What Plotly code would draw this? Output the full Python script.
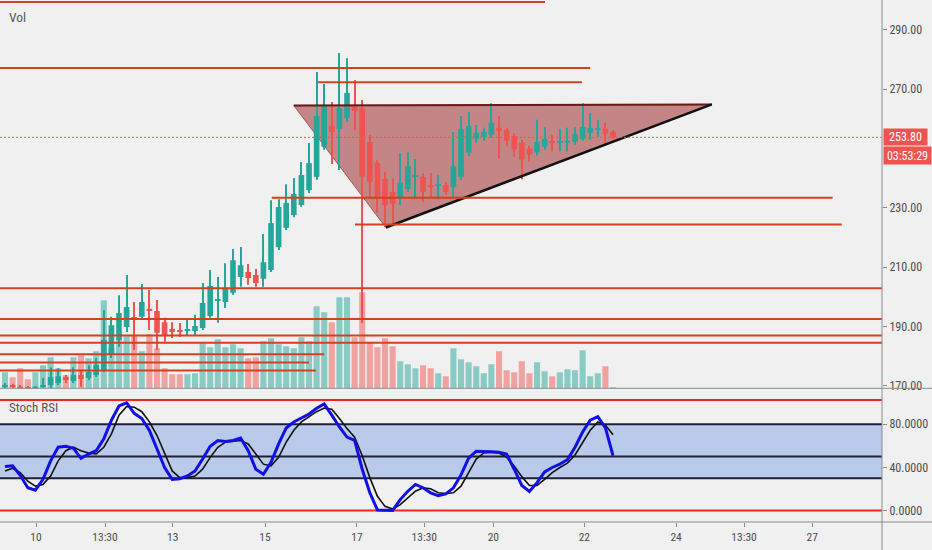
import plotly.graph_objects as go

# ---------------- data ----------------
open_ = [169.7,170.3,169.7,169.3,169.0,169.7,170.3,171.0,173.0,171.7,
         173.7,172.7,173.7,175.4,180.4,185.5,189.9,193.0,193.3,196.0,
         195.3,191.5,189.2,188.9,188.5,188.5,189.5,193.6,198.6,198.3,
         201.4,206.7,208.4,207.4,206.1,209.1,216.8,223.3,227.6,231.0,
         236.0,240.5,250.6,257.6,256.6,260.3,264.3,263.7,252.2,245.1,
         239.8,235.4,233.4,236.4,240.5,240.5,237.7,237.4,237.7,237.0,
         240.5,248.6,253.3,254.0,254.7,257.0,256.3,254.3,252.0,250.0,
         248.7,250.7,252.3,252.0,252.0,252.3,253.3,255.3,256.3,256.7,255.7]
high_ = [171.0,170.7,170.3,170.0,170.0,172.7,176.3,176.0,173.7,176.3,
         175.3,177.0,179.4,195.6,193.3,200.6,207.4,198.3,204.4,202.3,
         199.0,193.0,191.5,191.2,192.2,194.0,204.7,209.1,206.7,211.4,
         216.2,216.8,211.1,209.4,221.2,232.6,232.9,238.0,240.1,245.5,
         251.9,275.8,271.8,265.7,282.2,280.5,273.1,266.4,254.6,246.1,
         242.0,240.0,248.5,248.8,246.5,241.8,241.8,241.1,238.7,255.6,
         261.0,262.3,258.0,257.0,265.3,261.0,257.0,255.3,253.0,251.0,
         259.7,257.3,254.7,256.7,257.0,257.3,265.3,262.0,259.7,258.7,256.3]
low_ = [169.0,169.0,169.0,168.7,168.7,169.3,169.3,170.3,171.0,171.0,
        169.7,172.0,173.0,174.8,179.4,183.2,188.2,182.1,192.6,188.9,
        182.1,184.9,186.2,186.5,187.2,187.2,188.9,193.0,191.3,196.3,
        200.7,203.4,204.1,203.4,203.4,208.4,215.8,222.6,226.9,230.4,
        235.0,239.5,249.6,244.8,242.8,259.0,256.2,191.2,233.7,228.4,
        223.6,224.9,231.0,235.4,233.7,232.0,233.4,233.7,234.4,233.4,
        239.5,247.5,252.0,252.7,253.7,246.7,250.7,247.3,239.7,245.7,
        247.7,249.7,249.0,249.0,249.0,251.3,252.7,253.0,254.0,251.3,253.3]
close_ = [170.3,169.7,169.3,169.0,169.7,170.3,173.0,173.3,172.0,173.7,
          172.3,174.7,177.1,185.5,190.5,194.6,196.6,192.6,198.3,195.3,
          187.9,187.2,188.2,188.5,189.2,190.2,198.0,203.7,199.3,203.1,
          212.4,210.7,206.4,204.7,211.7,224.9,230.3,231.7,234.7,241.1,
          245.1,261.0,264.3,255.6,263.7,268.8,262.7,240.5,238.8,233.4,
          231.0,231.4,238.5,244.1,240.8,235.4,237.0,238.0,235.4,244.1,
          256.6,257.6,255.3,255.7,258.7,256.0,252.7,249.7,246.3,248.0,
          252.3,253.3,252.0,252.3,252.7,255.0,257.3,257.0,256.7,255.0,253.8]
volume_k = [16,11,20,9,16,23,31,20,13,31,
            33,30,37,88,40,50,52,53,37,54,
            40,20,14,14,14,15,45,41,49,41,
            44,40,30,31,47,50,44,42,40,51,
            47,82,76,66,91,91,51,96,46,41,
            50,42,27,24,20,23,20,15,12,40,
            29,26,22,15,24,37,18,16,27,15,
            26,17,12,16,19,18,38,12,15,22,1]
stoch_k = [40.8,41.5,32.7,21.1,18.8,28.9,46.1,58.7,59.6,57.8,
           48.4,52.4,55.5,66.5,83.8,97.0,100.0,90.2,85.4,74.4,
           57.1,39.9,28.9,29.5,32.0,36.7,47.7,59.6,65.0,64.0,
           65.0,67.2,55.5,38.3,33.6,44.6,61.8,76.6,82.2,86.0,
           89.5,94.9,98.8,88.5,77.5,68.1,65.0,38.3,16.4,0.5,
           0.5,0.0,10.1,17.9,24.2,21.1,16.4,13.8,15.4,21.0,
           33.0,48.5,55.0,55.0,54.6,54.0,52.4,38.3,23.2,17.6,
           25.8,35.8,39.9,43.0,47.1,58.7,72.8,83.8,87.0,76.6,50.8]
stoch_d = [36.7,39.2,35.2,27.3,22.6,24.2,32.0,46.1,55.5,58.7,
           55.5,53.4,52.4,58.7,71.2,88.5,96.5,95.9,91.7,82.3,
           69.6,52.4,36.7,30.5,30.5,32.0,38.3,49.3,58.7,63.4,
           64.0,65.0,61.8,52.4,43.0,41.4,49.3,63.4,74.4,82.2,
           87.0,91.7,95.0,94.0,85.4,76.0,68.1,50.8,30.5,13.2,
           3.8,1.3,5.4,11.7,17.9,21.1,20.1,16.4,15.7,16.4,
           22.6,35.2,47.7,53.4,54.0,53.4,49.3,41.4,31.4,23.2,
           23.2,28.9,35.2,39.9,44.0,51.5,63.4,74.4,82.2,79.1,70.3]

# time axis (bar index positions of the labels)
time_tick_pos = [4.08, 13.16, 22.07, 34.21, 46.3, 55.17, 64.25, 76.22, 88.3, 97.24, 106.2]
time_tick_text = ["10", "13:30", "13", "15", "17", "13:30", "20", "22", "24", "13:30", "27"]
price_ticks = [170, 190, 210, 230, 270, 290]
stoch_ticks = [0, 40, 80]

# horizontal drawn levels: price, start bar, end bar
hline_price = [299.4, 277.2, 272.4, 233.4, 224.4, 202.9, 192.6, 187.0, 184.6, 180.7, 177.9, 175.2]
hline_x0 = [-0.66, -0.66, 41.2, 35.1, 46.05, -0.66, -0.66, -0.66, -0.66, -0.66, -0.66, -0.66]
hline_x1 = [71.05, 77.0, 75.9, 108.9, 110.1, 115.4, 115.4, 115.4, 115.4, 42.0, 40.0, 40.9]

# triangle vertices (bar index, price)
tri_x = [38.0, 50.1, 93.0]
tri_y = [264.5, 223.4, 264.9]

last_price = 253.8
countdown = "03:53:29"

# stoch levels
band_lo, band_mid, band_hi = 30, 50, 80
stoch_red_hi, stoch_red_lo = 102.5, 0

# ---------------- figure ----------------
n = len(close_)
idx = list(range(n))
GREEN = "#26a69a"
RED = "#ef5350"
is_up = [c >= o for o, c in zip(open_, close_)]
candle_colors = [GREEN if u else RED for u in is_up]
vol_colors = ["rgba(38,166,154,0.5)" if u else "rgba(239,83,80,0.5)" for u in is_up]
body_base = [min(o, c) for o, c in zip(open_, close_)]
body_len = [max(abs(c - o), 0.35) for o, c in zip(open_, close_)]
wick_len = [h - l for h, l in zip(high_, low_)]

FONT = "Liberation Sans Narrow, Arial Narrow, Roboto Condensed, Roboto, sans-serif"
BG = "#f0f0f0"
LEVEL = "#d2421e"

fig = go.Figure()

fig.add_trace(go.Bar(x=idx, y=volume_k, marker=dict(color=vol_colors, line=dict(width=0)),
                     width=0.8, xaxis="x", yaxis="y", hoverinfo="skip", showlegend=False))

# candle wicks and bodies
fig.add_trace(go.Bar(x=idx, y=wick_len, base=low_, width=0.13,
                     marker=dict(color=candle_colors, line=dict(width=0)),
                     xaxis="x", yaxis="y3", hoverinfo="skip", showlegend=False))
fig.add_trace(go.Bar(x=idx, y=body_len, base=body_base, width=0.74,
                     marker=dict(color=candle_colors, line=dict(width=0)),
                     xaxis="x", yaxis="y3", hoverinfo="skip", showlegend=False))

fig.add_trace(go.Scatter(x=idx, y=stoch_d, mode="lines", line=dict(color="#111111", width=1.6),
                         xaxis="x", yaxis="y2", hoverinfo="skip", showlegend=False))
fig.add_trace(go.Scatter(x=idx, y=stoch_k, mode="lines", line=dict(color="#1010e6", width=3),
                         xaxis="x", yaxis="y2", hoverinfo="skip", showlegend=False))

shapes = []
# triangle
path = "M {},{} L {},{} L {},{} Z".format(tri_x[0], tri_y[0], tri_x[1], tri_y[1], tri_x[2], tri_y[2])
shapes.append(dict(type="path", path=path, xref="x", yref="y3", layer="below",
                   fillcolor="rgba(150,25,25,0.5)", line=dict(width=1, color="rgba(120,30,30,0.6)")))
shapes.append(dict(type="line", xref="x", yref="y3", x0=tri_x[0], y0=tri_y[0], x1=tri_x[2], y1=tri_y[2],
                   line=dict(color="#6a1818", width=2), layer="above"))
shapes.append(dict(type="line", xref="x", yref="y3", x0=tri_x[1], y0=tri_y[1], x1=tri_x[2], y1=tri_y[2],
                   line=dict(color="#111111", width=2.5), layer="above"))
# level lines
for p, a, b in zip(hline_price, hline_x0, hline_x1):
    shapes.append(dict(type="line", xref="x", yref="y3", x0=a, x1=b, y0=p, y1=p,
                       line=dict(color=LEVEL, width=2), layer="above"))
# last price dotted line
shapes.append(dict(type="line", xref="paper", yref="y3", x0=0, x1=1, y0=last_price, y1=last_price,
                   line=dict(color=RED, width=1, dash="2px,2px"), layer="above"))
# stoch band and levels
shapes.append(dict(type="rect", xref="paper", yref="y2", x0=0, x1=1, y0=band_lo, y1=band_hi,
                   fillcolor="rgba(70,120,220,0.32)", line=dict(width=0), layer="below"))
for v in (band_lo, band_mid, band_hi):
    shapes.append(dict(type="line", xref="paper", yref="y2", x0=0, x1=1, y0=v, y1=v,
                       line=dict(color="#1c2233", width=2), layer="below"))
for v in (stoch_red_hi, stoch_red_lo):
    shapes.append(dict(type="line", xref="paper", yref="y2", x0=0, x1=1, y0=v, y1=v,
                       line=dict(color="#f02222", width=2), layer="below"))

PANE_SPLIT = 0.2561
# pane separators and axis line
shapes.append(dict(type="line", xref="paper", yref="paper", x0=0, x1=1.06, y0=PANE_SPLIT, y1=PANE_SPLIT,
                   line=dict(color="#8c8c8c", width=1)))
shapes.append(dict(type="line", xref="paper", yref="paper", x0=0, x1=1.06, y0=0, y1=0,
                   line=dict(color="#8c8c8c", width=1)))
shapes.append(dict(type="line", xref="paper", yref="paper", x0=1, x1=1, y0=-0.06, y1=1,
                   line=dict(color="#8c8c8c", width=1)))

annotations = [
    dict(xref="paper", yref="y3", x=1, y=last_price, xanchor="left", yanchor="middle", xshift=1,
         text="253.80", showarrow=False, bgcolor=RED, font=dict(color="white", size=12, family=FONT),
         width=41, height=14, borderpad=1),
    dict(xref="paper", yref="y3", x=1, y=247.6, xanchor="left", yanchor="middle", xshift=1,
         text=countdown, showarrow=False, bgcolor=RED, font=dict(color="white", size=12, family=FONT),
         width=45, height=15, borderpad=1),
    dict(xref="paper", yref="paper", x=0.008, y=1 - 17.5 / 522, xanchor="left", yanchor="middle",
         text="Vol", showarrow=False, font=dict(color="#555555", size=13.5, family=FONT)),
    dict(xref="paper", yref="paper", x=0.008, y=1 - 407.5 / 522, xanchor="left", yanchor="middle",
         text="Stoch RSI", showarrow=False, font=dict(color="#555555", size=13, family=FONT)),
]

tickfont = dict(family=FONT, size=12, color="#4d4d4d")

fig.update_layout(
    width=932, height=550,
    margin=dict(l=0, r=50, t=0, b=28),
    paper_bgcolor=BG, plot_bgcolor=BG,
    showlegend=False, barmode="overlay", hovermode=False,
    shapes=shapes, annotations=annotations,
    xaxis=dict(range=[-0.658, 115.39], anchor="y2", tickvals=time_tick_pos, ticktext=time_tick_text,
               ticks="outside", ticklen=4, tickcolor="#8c8c8c", showgrid=False, zeroline=False,
               showline=False, fixedrange=True,
               tickfont=dict(family=FONT, size=11.5, color="#4d4d4d")),
    yaxis=dict(domain=[PANE_SPLIT, 1], range=[0, 388.3], visible=False, fixedrange=True),
    yaxis3=dict(overlaying="y", side="right", anchor="x", range=[169.2, 300.1],
                tickvals=price_ticks, ticktext=["%.2f" % v for v in price_ticks],
                ticks="outside", ticklen=4, tickcolor="#8c8c8c", showgrid=False, zeroline=False,
                showline=False, tickfont=tickfont, fixedrange=True),
    yaxis2=dict(domain=[0, PANE_SPLIT], range=[-10.7, 113.4], side="right", anchor="x",
                tickvals=stoch_ticks, ticktext=["%.4f" % v for v in stoch_ticks],
                ticks="outside", ticklen=4, tickcolor="#8c8c8c", showgrid=False, zeroline=False,
                showline=False, tickfont=tickfont, fixedrange=True),
)

fig.write_html("out.html", config={"displayModeBar": False},
               post_script="document.body.style.margin='0';document.body.style.overflow='hidden';")
